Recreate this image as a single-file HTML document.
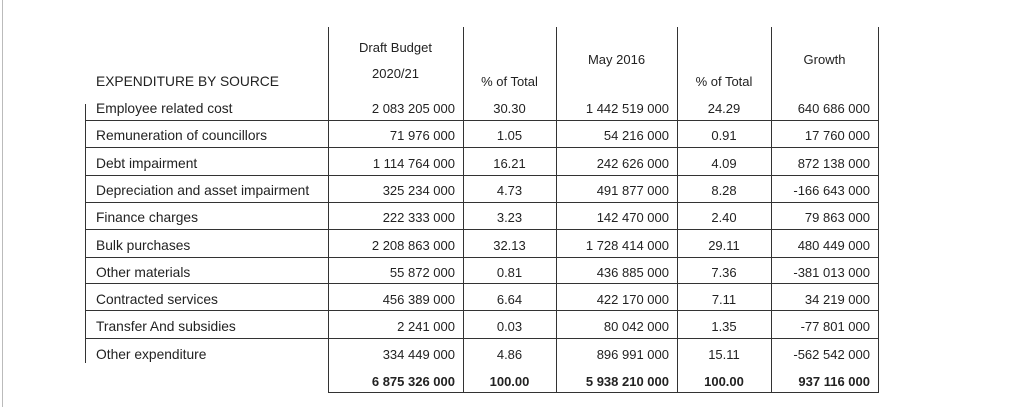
<!DOCTYPE html>
<html><head><meta charset="utf-8"><style>
body{margin:0;width:1024px;height:407px;background:#fff;position:relative;overflow:hidden;font-family:"Liberation Sans",sans-serif;font-size:13px;color:#222}
.l{position:absolute;background:#333}
.t{position:absolute;line-height:14px;white-space:nowrap}
.lb{font-size:13.8px}
.r{text-align:right}.c{text-align:center}
</style></head><body>
<div class="l" style="left:2px;top:0;width:1px;height:407px;background:#bbb"></div>
<div class="l" style="left:85px;top:104px;width:1px;height:259px"></div>
<div class="l" style="left:328px;top:27px;width:1px;height:365px"></div>
<div class="l" style="left:463px;top:27px;width:1px;height:365px"></div>
<div class="l" style="left:556px;top:27px;width:1px;height:365px"></div>
<div class="l" style="left:677px;top:27px;width:1px;height:365px"></div>
<div class="l" style="left:771px;top:27px;width:1px;height:365px"></div>
<div class="l" style="left:878px;top:27px;width:1px;height:365px"></div>
<div class="l" style="left:328px;top:392px;width:551px;height:1px"></div>
<div id="rows"></div>
<div class="t lb" style="left:96px;top:75px">EXPENDITURE BY SOURCE</div>
<div class="t c" style="left:328px;width:135px;top:41px">Draft Budget</div>
<div class="t c" style="left:328px;width:135px;top:67px">2020/21</div>
<div class="t c" style="left:463px;width:93px;top:75px">% of Total</div>
<div class="t c" style="left:556px;width:121px;top:53px">May 2016</div>
<div class="t c" style="left:677px;width:94px;top:75px">% of Total</div>
<div class="t c" style="left:771px;width:107px;top:53px">Growth</div>
<script>
var d=[["Employee related cost","2 083 205 000","30.30","1 442 519 000","24.29","640 686 000"],
["Remuneration of councillors","71 976 000","1.05","54 216 000","0.91","17 760 000"],
["Debt impairment","1 114 764 000","16.21","242 626 000","4.09","872 138 000"],
["Depreciation and asset impairment","325 234 000","4.73","491 877 000","8.28","-166 643 000"],
["Finance charges","222 333 000","3.23","142 470 000","2.40","79 863 000"],
["Bulk purchases","2 208 863 000","32.13","1 728 414 000","29.11","480 449 000"],
["Other materials","55 872 000","0.81","436 885 000","7.36","-381 013 000"],
["Contracted services","456 389 000","6.64","422 170 000","7.11","34 219 000"],
["Transfer And subsidies","2 241 000","0.03","80 042 000","1.35","-77 801 000"],
["Other expenditure","334 449 000","4.86","896 991 000","15.11","-562 542 000"],
["","6 875 326 000","100.00","5 938 210 000","100.00","937 116 000"]];
var lines=[120,147,175,202,229,257,283,310,338];
var h="";
lines.forEach(function(y){h+='<div class="l" style="left:85px;top:'+y+'px;width:794px;height:1px"></div>';});
d.forEach(function(r,i){var y=102+i*27.3;var b=i==10?'font-weight:bold;':'';
h+='<div class="t lb" style="left:96px;top:'+y+'px">'+r[0]+'</div>';
h+='<div class="t r" style="'+b+'left:328px;width:127px;top:'+y+'px">'+r[1]+'</div>';
h+='<div class="t c" style="'+b+'left:463px;width:93px;top:'+y+'px">'+r[2]+'</div>';
h+='<div class="t r" style="'+b+'left:556px;width:113px;top:'+y+'px">'+r[3]+'</div>';
h+='<div class="t c" style="'+b+'left:677px;width:94px;top:'+y+'px">'+r[4]+'</div>';
h+='<div class="t r" style="'+b+'left:771px;width:99px;top:'+y+'px">'+r[5]+'</div>';});
document.getElementById("rows").innerHTML=h;
</script>
</body></html>
